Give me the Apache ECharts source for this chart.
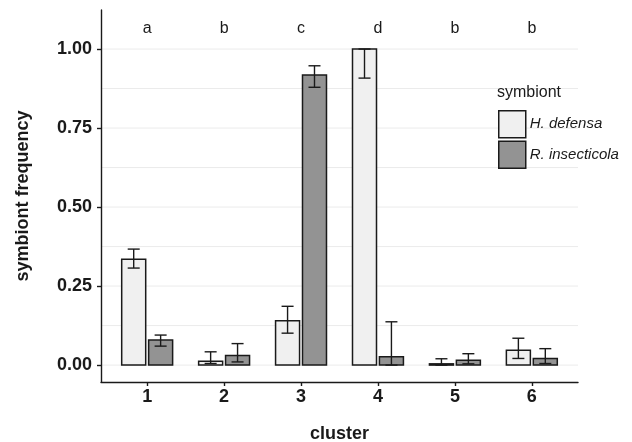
<!DOCTYPE html>
<html>
<head>
<meta charset="utf-8">
<script src="https://cdn.jsdelivr.net/npm/echarts@6/dist/echarts.min.js"></script>
<style>
    html, body { margin: 0; padding: 0; background: #fff; }
    #chart { width: 632px; height: 442px; }
</style>
</head>
<body>
<div id="chart"></div>
<script>
    // cluster data
    let clusters = [1, 2, 3, 4, 5, 6];
    let letters = ['a', 'b', 'c', 'd', 'b', 'b'];
    let seriesNames = ['H. defensa', 'R. insecticola'];

    let hdefMean = [0.335, 0.012, 0.140, 1.000, 0.004, 0.047];
    let hdefLow  = [0.307, 0.005, 0.101, 0.908, 0.000, 0.021];
    let hdefHigh = [0.367, 0.042, 0.186, 1.000, 0.020, 0.085];

    let rinsMean = [0.079, 0.030, 0.918, 0.026, 0.015, 0.021];
    let rinsLow  = [0.060, 0.010, 0.879, 0.000, 0.004, 0.005];
    let rinsHigh = [0.095, 0.068, 0.947, 0.137, 0.036, 0.052];

    let yTicks = [0, 0.25, 0.5, 0.75, 1];
    let gridValues = [0, 0.125, 0.25, 0.375, 0.5, 0.625, 0.75, 0.875, 1];
    let letterY = 1.065;

    let font = 'Liberation Sans, Arial, sans-serif';
    let ink = '#1a1a1a';
    let fills = ['#f0f0f0', '#939393'];

    let xMin = 0.4, xMax = 6.6;
    let barHalf = 0.156;   // half bar width in axis units
    let dodge = 0.175;     // offset of each bar from cluster centre
    let capHalf = 0.078;

    function makeData(mean, low, high) {
        return clusters.map((c, i) => [c, mean[i], low[i], high[i]]);
    }

    function barRenderer(offset) {
        return function (params, api) {
            let cx = api.value(0) + offset;
            let tl = api.coord([cx - barHalf, api.value(1)]);
            let br = api.coord([cx + barHalf, 0]);
            let lo = api.coord([cx, api.value(2)]);
            let hi = api.coord([cx, api.value(3)]);
            let capL = api.coord([cx - capHalf, 0])[0];
            let capR = api.coord([cx + capHalf, 0])[0];
            let lineStyle = {stroke: ink, lineWidth: 1.4};
            return {
                type: 'group',
                children: [
                    {
                        type: 'rect',
                        shape: {x: tl[0], y: tl[1], width: br[0] - tl[0], height: br[1] - tl[1]},
                        style: {fill: api.visual('color'), stroke: ink, lineWidth: 1.5}
                    },
                    {type: 'line', shape: {x1: lo[0], y1: lo[1], x2: hi[0], y2: hi[1]}, style: lineStyle},
                    {type: 'line', shape: {x1: capL, y1: hi[1], x2: capR, y2: hi[1]}, style: lineStyle},
                    {type: 'line', shape: {x1: capL, y1: lo[1], x2: capR, y2: lo[1]}, style: lineStyle}
                ]
            };
        };
    }

    let myChart = echarts.init(document.getElementById('chart'));

    let option = {
        animation: false,
        backgroundColor: '#fff',
        textStyle: {fontFamily: font},
        title: {
            text: 'symbiont',
            left: 492,
            top: 80,
            textStyle: {fontFamily: font, fontSize: 16, fontWeight: 'normal', color: ink}
        },
        legend: {
            orient: 'vertical',
            left: 493,
            top: 105,
            itemWidth: 27,
            itemHeight: 27,
            itemGap: 2,
            icon: 'rect',
            z: 10,
            textStyle: {fontFamily: font, fontSize: 15, fontStyle: 'italic', color: ink, padding: [0, 0, 0, -1]},
            data: seriesNames.map((n, i) => ({
                name: n,
                itemStyle: {color: fills[i], borderColor: ink, borderWidth: 1.5}
            }))
        },
        grid: {left: 101, right: 54, top: 10, bottom: 60, outerBoundsMode: 'none'},
        xAxis: {
            type: 'value',
            min: xMin,
            max: xMax,
            z: 5,
            name: 'cluster',
            nameLocation: 'middle',
            nameGap: 43,
            nameTextStyle: {fontFamily: font, fontSize: 18, fontWeight: 'bold', color: ink},
            splitLine: {show: false},
            axisLine: {onZero: false, lineStyle: {color: ink, width: 1.4}},
            axisTick: {show: true, customValues: clusters, length: 4, lineStyle: {color: ink, width: 1.4}},
            axisLabel: {
                customValues: clusters,
                margin: 6,
                fontFamily: font,
                fontSize: 18,
                fontWeight: 'bold',
                color: ink
            }
        },
        yAxis: {
            type: 'value',
            min: -0.0535,
            max: 1.1235,
            z: 5,
            name: 'symbiont frequency',
            nameLocation: 'middle',
            nameGap: 69,
            nameTextStyle: {fontFamily: font, fontSize: 18, fontWeight: 'bold', color: ink},
            splitLine: {show: false},
            axisLine: {show: true, onZero: false, lineStyle: {color: ink, width: 1.4}},
            axisTick: {show: true, customValues: yTicks, length: 4, lineStyle: {color: ink, width: 1.4}},
            axisLabel: {
                customValues: yTicks,
                margin: 9,
                fontFamily: font,
                fontSize: 18,
                fontWeight: 'bold',
                color: ink,
                formatter: (v) => v.toFixed(2)
            }
        },
        series: [
            {
                // background gridlines across the panel
                type: 'custom',
                silent: true,
                z: 1,
                encode: {y: 0},
                renderItem: function (params, api) {
                    let a = api.coord([xMin, api.value(0)]);
                    let b = api.coord([xMax, api.value(0)]);
                    return {
                        type: 'line',
                        shape: {x1: a[0], y1: a[1], x2: b[0], y2: b[1]},
                        style: {stroke: '#ebebeb', lineWidth: 1}
                    };
                },
                data: gridValues.map((v) => [v])
            },
            {
                name: seriesNames[0],
                type: 'custom',
                z: 3,
                itemStyle: {color: fills[0]},
                encode: {x: 0, y: [1, 2, 3]},
                renderItem: barRenderer(-dodge),
                data: makeData(hdefMean, hdefLow, hdefHigh)
            },
            {
                name: seriesNames[1],
                type: 'custom',
                z: 3,
                itemStyle: {color: fills[1]},
                encode: {x: 0, y: [1, 2, 3]},
                renderItem: barRenderer(dodge),
                data: makeData(rinsMean, rinsLow, rinsHigh)
            },
            {
                // significance letters above clusters
                type: 'custom',
                z: 4,
                silent: true,
                encode: {x: 0, y: 1},
                renderItem: function (params, api) {
                    let p = api.coord([api.value(0), api.value(1)]);
                    return {
                        type: 'text',
                        x: p[0],
                        y: p[1],
                        style: {
                            text: letters[params.dataIndex],
                            fill: ink,
                            font: '16px ' + font,
                            align: 'center',
                            verticalAlign: 'middle'
                        }
                    };
                },
                data: clusters.map((c) => [c, letterY])
            }
        ]
    };
    myChart.setOption(option);
</script>
</body>
</html>
